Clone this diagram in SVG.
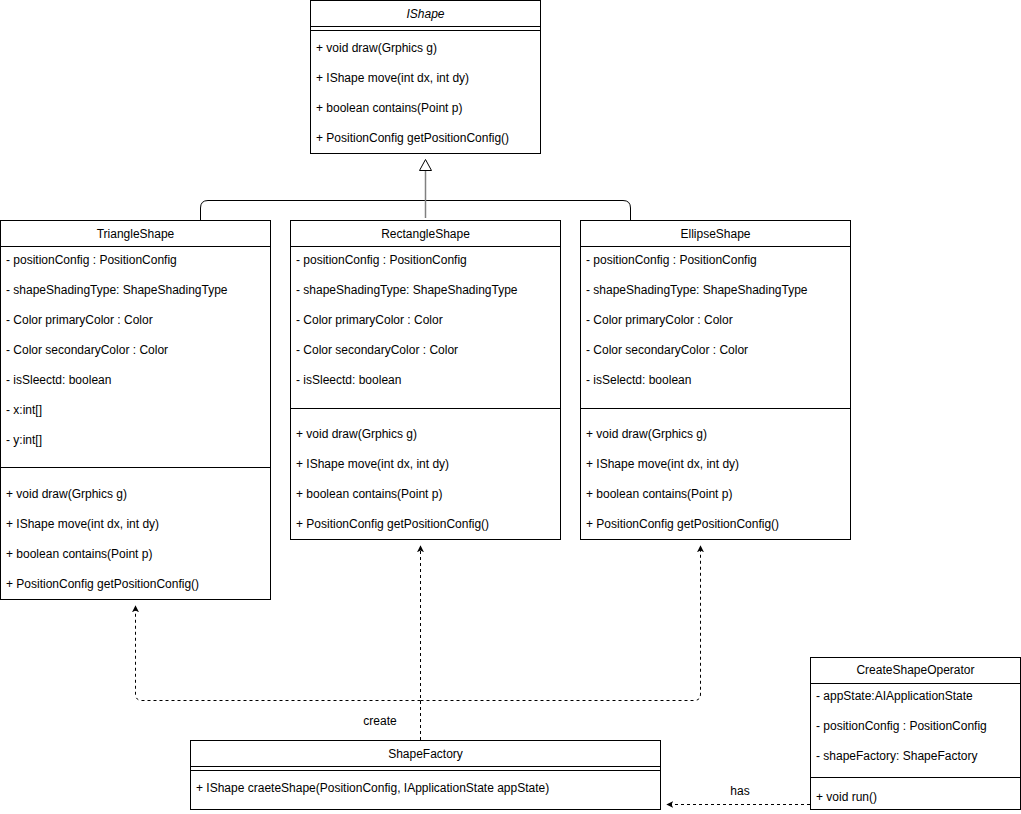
<svg xmlns="http://www.w3.org/2000/svg" width="1021" height="814" viewBox="0 0 1021 814">
<style>
text{font-family:"Liberation Sans",Arial,sans-serif;font-size:12px;fill:#000}
.c{text-anchor:middle}
.box{fill:#fff;stroke:#000;stroke-width:1}
.ln{stroke:#000;stroke-width:1;fill:none}
.dash{stroke:#000;stroke-width:1;fill:none;stroke-dasharray:3 3}
</style>
<defs>
<marker id="arr" viewBox="0 0 10 10" refX="9" refY="5" markerWidth="7" markerHeight="7" orient="auto" markerUnits="userSpaceOnUse">
<path d="M0,0 L10,5 L0,10 L2.5,5 Z" fill="#000"/>
</marker>
</defs>
<rect width="1021" height="814" fill="#fff"/>
<g id="connectors">
<path class="ln" d="M200.5,220 V208 Q200.5,200.5 208,200.5 H623 Q630.5,200.5 630.5,208 V220"/>
<line x1="425.5" y1="218" x2="425.5" y2="170" stroke="#808080" stroke-width="1.5"/>
<polygon points="425.5,159.5 419.5,170.5 431.5,170.5" fill="#fff" stroke="#000" stroke-width="1"/>
<path class="dash" d="M420.5,740 V546" marker-end="url(#arr)"/>
<path class="dash" d="M420.5,700.5 H142 Q135.5,700.5 135.5,694 V606" marker-end="url(#arr)"/>
<path class="dash" d="M420.5,700.5 H694 Q700.5,700.5 700.5,694 V546" marker-end="url(#arr)"/>
<text class="c" x="380" y="725">create</text>
<path class="dash" d="M810,804.5 H667" marker-end="url(#arr)"/>
<text class="c" x="740" y="795">has</text>
</g>
<g id="IShape">
<rect class="box" x="310.5" y="0.5" width="230" height="153"/>
<text class="c" x="425.5" y="18" font-style="italic">IShape</text>
<line class="ln" x1="310.5" y1="26.5" x2="540.5" y2="26.5"/>
<line class="ln" x1="310.5" y1="30.5" x2="540.5" y2="30.5"/>
<text x="316" y="52">+ void draw(Grphics g)</text>
<text x="316" y="82">+ IShape move(int dx, int dy)</text>
<text x="316" y="112">+ boolean contains(Point p)</text>
<text x="316" y="142">+ PositionConfig getPositionConfig()</text>
</g>
<g id="TriangleShape">
<rect class="box" x="0.5" y="220.5" width="270" height="379"/>
<text class="c" x="135.5" y="238">TriangleShape</text>
<line class="ln" x1="0.5" y1="246.5" x2="270.5" y2="246.5"/>
<text x="6" y="264">- positionConfig : PositionConfig</text>
<text x="6" y="294">- shapeShadingType: ShapeShadingType</text>
<text x="6" y="324">- Color primaryColor : Color</text>
<text x="6" y="354">- Color secondaryColor : Color</text>
<text x="6" y="384">- isSleectd: boolean</text>
<text x="6" y="414">- x:int[]</text>
<text x="6" y="444">- y:int[]</text>
<line class="ln" x1="0.5" y1="467.5" x2="270.5" y2="467.5"/>
<text x="6" y="498">+ void draw(Grphics g)</text>
<text x="6" y="528">+ IShape move(int dx, int dy)</text>
<text x="6" y="558">+ boolean contains(Point p)</text>
<text x="6" y="588">+ PositionConfig getPositionConfig()</text>
</g>
<g id="RectangleShape">
<rect class="box" x="290.5" y="220.5" width="270" height="319"/>
<text class="c" x="425.5" y="238">RectangleShape</text>
<line class="ln" x1="290.5" y1="246.5" x2="560.5" y2="246.5"/>
<text x="296" y="264">- positionConfig : PositionConfig</text>
<text x="296" y="294">- shapeShadingType: ShapeShadingType</text>
<text x="296" y="324">- Color primaryColor : Color</text>
<text x="296" y="354">- Color secondaryColor : Color</text>
<text x="296" y="384">- isSleectd: boolean</text>
<line class="ln" x1="290.5" y1="408.5" x2="560.5" y2="408.5"/>
<text x="296" y="438">+ void draw(Grphics g)</text>
<text x="296" y="468">+ IShape move(int dx, int dy)</text>
<text x="296" y="498">+ boolean contains(Point p)</text>
<text x="296" y="528">+ PositionConfig getPositionConfig()</text>
</g>
<g id="EllipseShape">
<rect class="box" x="580.5" y="220.5" width="270" height="319"/>
<text class="c" x="715.5" y="238">EllipseShape</text>
<line class="ln" x1="580.5" y1="246.5" x2="850.5" y2="246.5"/>
<text x="586" y="264">- positionConfig : PositionConfig</text>
<text x="586" y="294">- shapeShadingType: ShapeShadingType</text>
<text x="586" y="324">- Color primaryColor : Color</text>
<text x="586" y="354">- Color secondaryColor : Color</text>
<text x="586" y="384">- isSelectd: boolean</text>
<line class="ln" x1="580.5" y1="408.5" x2="850.5" y2="408.5"/>
<text x="586" y="438">+ void draw(Grphics g)</text>
<text x="586" y="468">+ IShape move(int dx, int dy)</text>
<text x="586" y="498">+ boolean contains(Point p)</text>
<text x="586" y="528">+ PositionConfig getPositionConfig()</text>
</g>
<g id="ShapeFactory">
<rect class="box" x="190.5" y="740.5" width="470" height="69"/>
<text class="c" x="425.5" y="758">ShapeFactory</text>
<line class="ln" x1="190.5" y1="766.5" x2="660.5" y2="766.5"/>
<line class="ln" x1="190.5" y1="770.5" x2="660.5" y2="770.5"/>
<text x="196" y="792">+ IShape craeteShape(PositionConfig, IApplicationState appState)</text>
</g>
<g id="CreateShapeOperator">
<rect class="box" x="810.5" y="657.5" width="210" height="152"/>
<text class="c" x="915.5" y="674">CreateShapeOperator</text>
<line class="ln" x1="810.5" y1="683.5" x2="1020.5" y2="683.5"/>
<text x="816" y="700">- appState:AIApplicationState</text>
<text x="816" y="730">- positionConfig : PositionConfig</text>
<text x="816" y="760">- shapeFactory: ShapeFactory</text>
<line class="ln" x1="810.5" y1="777.5" x2="1020.5" y2="777.5"/>
<text x="816" y="801">+ void run()</text>
</g>
</svg>
